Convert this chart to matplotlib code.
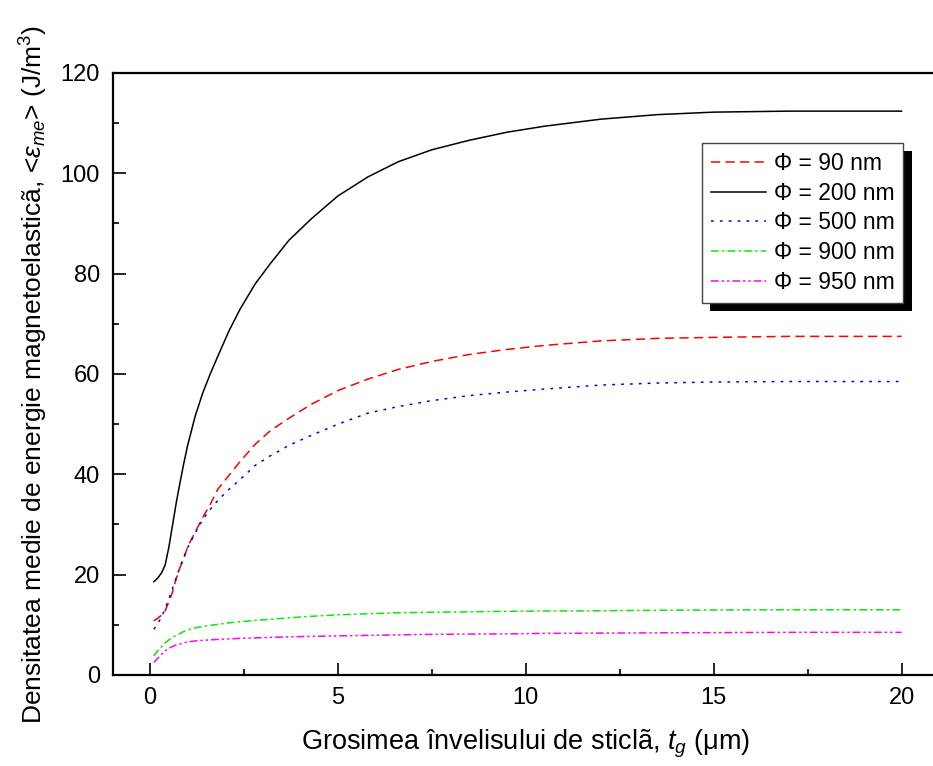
import matplotlib
matplotlib.use("Agg")
import matplotlib.pyplot as plt
import matplotlib.patheffects as pe
from matplotlib.ticker import MultipleLocator

plt.rcParams['font.family'] = ['Liberation Sans', 'DejaVu Sans']
plt.rcParams['mathtext.fontset'] = 'custom'
plt.rcParams['mathtext.rm'] = 'Liberation Sans'
plt.rcParams['mathtext.it'] = 'Liberation Sans:italic'

# glass shell thickness (um)
t_g = [0.1, 0.2, 0.3, 0.4, 0.5, 0.6, 0.7, 0.8, 0.9, 1.0, 1.2, 1.4, 1.6, 1.8, 2.1, 2.4,
       2.8, 3.2, 3.7, 4.3, 5, 5.8, 6.6, 7.5, 8.5, 9.5, 10.5, 12, 13.5, 15, 17, 20]

# mean magnetoelastic energy density (J/m^3)
e_90 = [10.8, 11.3, 11.9, 12.8, 14.6, 16.6, 19.3, 21.5, 23.2, 25.6, 28.5, 31.4, 34.0, 37.0,
        39.8, 42.6, 46.0, 48.7, 51.2, 54.0, 56.7, 59.0, 60.9, 62.5, 63.9, 64.9, 65.7, 66.6,
        67.1, 67.3, 67.5, 67.5]
e_200 = [18.6, 19.3, 20.3, 21.9, 25.5, 30.0, 34.5, 38.5, 42.3, 45.8, 51.6, 56.2, 60.0, 63.5,
         68.6, 73.0, 78.0, 82.0, 86.7, 91.0, 95.5, 99.3, 102.3, 104.7, 106.6, 108.2, 109.4,
         110.8, 111.7, 112.2, 112.4, 112.4]
e_500 = [9.1, 10.2, 11.5, 13.2, 15.2, 17.3, 19.5, 21.6, 23.6, 25.4, 28.3, 31.0, 33.0, 34.8,
         37.0, 39.0, 41.8, 43.7, 45.8, 47.8, 50.0, 52.2, 53.5, 54.7, 55.7, 56.4, 57.0, 57.8,
         58.2, 58.4, 58.5, 58.5]
e_900 = [3.8, 4.8, 5.6, 6.4, 7.0, 7.5, 7.9, 8.3, 8.7, 9.0, 9.4, 9.7, 9.9, 10.1, 10.4, 10.6,
         10.9, 11.1, 11.4, 11.7, 12.0, 12.2, 12.4, 12.5, 12.6, 12.7, 12.75, 12.8, 12.9, 12.95,
         13.0, 13.0]
e_950 = [2.5, 3.3, 4.1, 4.8, 5.3, 5.7, 6.0, 6.2, 6.4, 6.6, 6.8, 6.9, 7.0, 7.1, 7.2, 7.3,
         7.4, 7.5, 7.6, 7.7, 7.8, 7.9, 8.0, 8.1, 8.15, 8.2, 8.3, 8.35, 8.4, 8.45, 8.5, 8.5]

labels = ['Φ = 90 nm', 'Φ = 200 nm', 'Φ = 500 nm', 'Φ = 900 nm', 'Φ = 950 nm']

fig = plt.figure(figsize=(9.33, 7.66), dpi=100)
ax = fig.add_axes([0.1206, 0.1188, 0.886, 0.7859])

lw = 1.1
ax.plot(t_g, e_90, c='#ff0000', lw=lw, ls=(0, (6, 3.5)), label=labels[0])
ax.plot(t_g, e_200, c='black', lw=lw, ls='-', label=labels[1])
ax.plot(t_g, e_500, c='#0000ff', lw=lw, ls=(0, (1.8, 4)), label=labels[2])
ax.plot(t_g, e_900, c='#00ee00', lw=lw, ls=(0, (5, 2.2, 1.5, 2.2)), label=labels[3])
ax.plot(t_g, e_950, c='#ff00ff', lw=lw, ls=(0, (5, 2, 1.5, 2, 1.5, 2)), label=labels[4])

ax.set_xlim(-1, 21)
ax.set_ylim(0, 120)
ax.xaxis.set_major_locator(MultipleLocator(5))
ax.xaxis.set_minor_locator(MultipleLocator(2.5))
ax.yaxis.set_major_locator(MultipleLocator(20))
ax.yaxis.set_minor_locator(MultipleLocator(10))
ax.set_xticks([0, 5, 10, 15, 20])

ax.spines['right'].set_visible(False)
for s in ['left', 'bottom', 'top']:
    ax.spines[s].set_linewidth(1.6)
ax.tick_params(which='both', direction='in', width=1.2, labelsize=17, top=False, right=False)
ax.tick_params(which='major', length=9)
ax.tick_params(which='minor', length=4.5)
ax.tick_params(axis='x', pad=9)
ax.tick_params(axis='y', pad=9)

ax.set_xlabel('Grosimea învelisului de sticlã, $t_g$ (μm)', fontsize=19.5, labelpad=13)
ax.set_ylabel('Densitatea medie de energie magnetoelasticã, <$\\varepsilon_{me}$> (J/m$^3$)',
              fontsize=19, labelpad=8)

leg = ax.legend(loc='upper left', bbox_to_anchor=(702 / 933, 1 - 143 / 766),
                bbox_transform=fig.transFigure, fontsize=16.5, frameon=True, fancybox=False,
                framealpha=1, edgecolor='#444444', handlelength=2.4, labelspacing=0.3,
                borderpad=0.38, handletextpad=0.35, borderaxespad=0)
leg.get_frame().set_linewidth(1.0)
leg.get_frame().set_path_effects([
    pe.SimplePatchShadow(offset=(6, -6), shadow_rgbFace='black', alpha=1.0),
    pe.Normal()])

fig.savefig('out.png', dpi=100)
